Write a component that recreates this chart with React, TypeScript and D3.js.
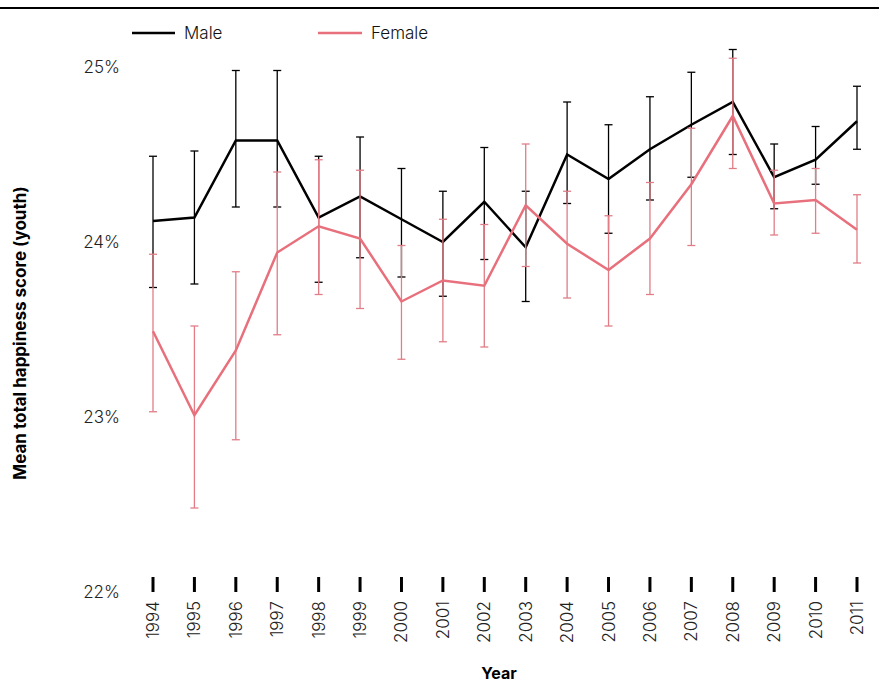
import * as d3 from "d3";

const years = [1994,1995,1996,1997,1998,1999,2000,2001,2002,2003,2004,2005,2006,2007,2008,2009,2010,2011];
const maleMean = [24.12,24.14,24.58,24.58,24.14,24.26,24.13,24.0,24.23,23.97,24.5,24.36,24.53,24.67,24.8,24.37,24.47,24.69];
const maleHigh = [24.49,24.52,24.98,24.98,24.49,24.6,24.42,24.29,24.54,24.29,24.8,24.67,24.83,24.97,25.1,24.56,24.66,24.89];
const maleLow = [23.74,23.76,24.2,24.2,23.77,23.91,23.8,23.69,23.9,23.66,24.22,24.05,24.24,24.37,24.5,24.19,24.33,24.53];
const femaleMean = [23.49,23.01,23.38,23.94,24.09,24.02,23.66,23.78,23.75,24.21,23.99,23.84,24.02,24.33,24.72,24.22,24.24,24.07];
const femaleHigh = [23.93,23.52,23.83,24.4,24.47,24.41,23.98,24.13,24.1,24.56,24.29,24.15,24.34,24.65,25.05,24.41,24.42,24.27];
const femaleLow = [23.03,22.48,22.87,23.47,23.7,23.62,23.33,23.43,23.4,23.86,23.68,23.52,23.7,23.98,24.42,24.04,24.05,23.88];
const yTicks = [22, 23, 24, 25];

const W = 879, H = 682;
const FEMALE = "#e8707c";

export default function App() {
  const x = d3.scalePoint<number>().domain(years).range([153, 857]);
  const y = d3.scaleLinear().domain([22, 25]).range([592, 67]);
  const line = d3.line<number>().x((_, i) => x(years[i])!).y((v) => y(v));
  const series = [
    { name: "Male", color: "#000", barColor: "#000", mean: maleMean, hi: maleHigh, lo: maleLow },
    { name: "Female", color: FEMALE, barColor: "#e07d86", mean: femaleMean, hi: femaleHigh, lo: femaleLow },
  ];
  const font = "Inter, 'Noto Sans', sans-serif";
  return (
    <svg width={W} height={H} style={{ position: "absolute", left: 0, top: 0, fontFamily: font }}>
      <line x1={0} x2={W} y1={8} y2={8} stroke="#000" strokeWidth={2} />
      {/* legend */}
      <line x1={132} x2={175} y1={33} y2={33} stroke="#000" strokeWidth={2.5} />
      <text x={184} y={39} fontSize={17} fontWeight={300} fill="#111">Male</text>
      <line x1={318} x2={362} y1={33} y2={33} stroke={FEMALE} strokeWidth={2.5} />
      <text x={371} y={39} fontSize={17} fontWeight={300} fill="#111">Female</text>
      {/* y axis labels */}
      {yTicks.map((t) => (
        <text key={t} x={120} y={y(t) + 6} textAnchor="end" fontSize={17} fontWeight={300} fill="#222">{t}%</text>
      ))}
      <text transform="translate(26,333) rotate(-90)" textAnchor="middle" fontSize={17} fontWeight="bold">
        Mean total happiness score (youth)
      </text>
      {/* x axis */}
      {years.map((yr) => (
        <g key={yr} transform={`translate(${x(yr)},0)`}>
          <line y1={577} y2={592} stroke="#000" strokeWidth={3} />
          <text transform="translate(6,601) rotate(-90)" textAnchor="end" fontSize={17} fontWeight={300} fill="#222">{yr}</text>
        </g>
      ))}
      <text x={499} y={679} textAnchor="middle" fontSize={16} fontWeight="bold">Year</text>
      {series.map((s) => (
        <g key={s.name}>
          {years.map((yr, i) => (
            <g key={yr} stroke={s.barColor} strokeWidth={1.3}>
              <line x1={x(yr)} x2={x(yr)} y1={y(s.hi[i])} y2={y(s.lo[i])} />
              <line x1={x(yr)! - 4} x2={x(yr)! + 4} y1={y(s.hi[i])} y2={y(s.hi[i])} />
              <line x1={x(yr)! - 4} x2={x(yr)! + 4} y1={y(s.lo[i])} y2={y(s.lo[i])} />
            </g>
          ))}
          <path d={line(s.mean)!} fill="none" stroke={s.color} strokeWidth={2.5} />
        </g>
      ))}
    </svg>
  );
}
